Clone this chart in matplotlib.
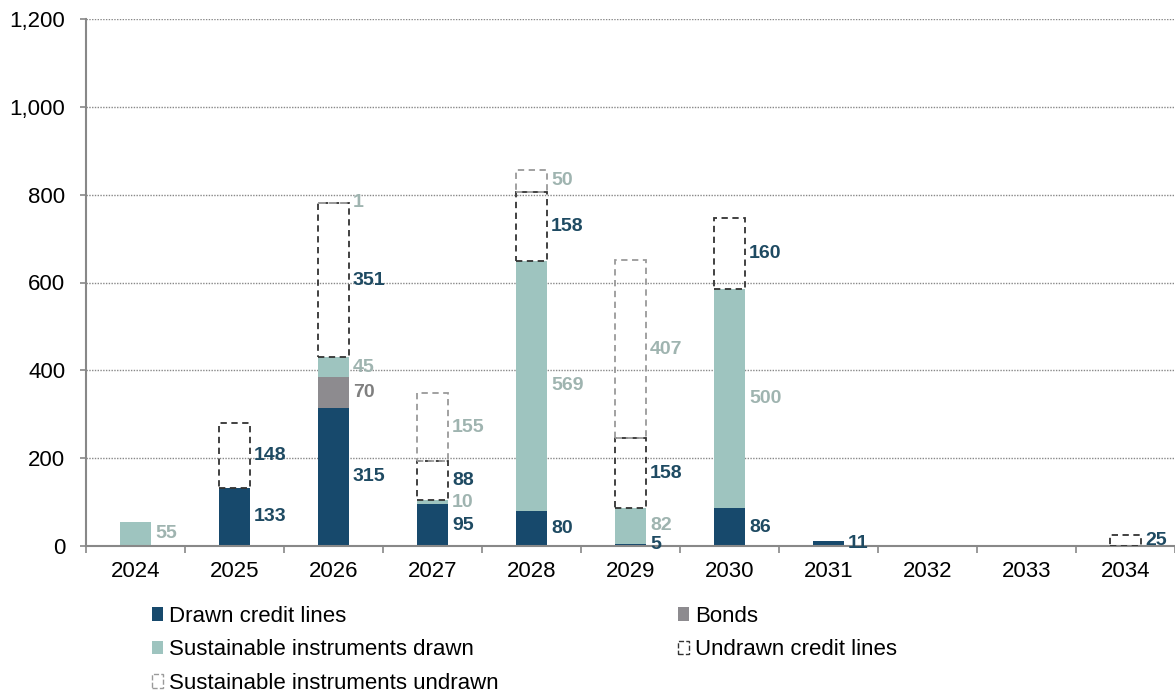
import matplotlib
matplotlib.use("Agg")
import matplotlib.pyplot as plt
from matplotlib.patches import Patch
import numpy as np

plt.rcParams['font.family'] = ['Liberation Sans', 'DejaVu Sans']

years = ['2024', '2025', '2026', '2027', '2028', '2029', '2030', '2031', '2032', '2033', '2034']
drawn_credit = [0, 133, 315, 95, 80, 5, 86, 11, 0, 0, 0]
bonds = [0, 0, 70, 0, 0, 0, 0, 0, 0, 0, 0]
sust_drawn = [55, 0, 45, 10, 569, 82, 500, 0, 0, 0, 0]
undrawn_credit = [0, 148, 351, 88, 158, 158, 160, 0, 0, 0, 25]
sust_undrawn = [0, 0, 1, 155, 50, 407, 0, 0, 0, 0, 0]

series_names = ['Drawn credit lines', 'Bonds', 'Sustainable instruments drawn',
                'Undrawn credit lines', 'Sustainable instruments undrawn']
yticks = [0, 200, 400, 600, 800, 1000, 1200]

DARK = '#17496c'
DARK_LBL = '#1e4a62'
BOND = '#8d8b8f'
SUST = '#9ec4bf'
LIGHT_LBL = '#9fb4b0'
DASH_DARK = '#333333'
DASH_LIGHT = '#9a9a9a'

fig = plt.figure(figsize=(11.75, 6.92), dpi=100)
ax = fig.add_axes([86/1175, 1-546/692, 1-86/1175, (546-19)/692])

x = np.arange(len(years))
w = 0.31

styles = [
    dict(color=DARK, edgecolor='none', lbl=DARK_LBL),
    dict(color=BOND, edgecolor='none', lbl='#7f7f7f'),
    dict(color=SUST, edgecolor='none', lbl=LIGHT_LBL),
    dict(color='none', edgecolor=DASH_DARK, lbl=DARK_LBL, ls='--'),
    dict(color='none', edgecolor=DASH_LIGHT, lbl=LIGHT_LBL, ls='--'),
]
all_series = [drawn_credit, bonds, sust_drawn, undrawn_credit, sust_undrawn]
bottom = np.zeros(len(years))
for vals, st in zip(all_series, styles):
    vals = np.array(vals, dtype=float)
    for i in range(len(years)):
        if vals[i] <= 0:
            continue
        if st.get('ls'):
            ax.bar(x[i], vals[i], w, bottom=bottom[i], facecolor='none',
                   edgecolor=st['edgecolor'], linestyle=(0, (3.5, 2.5)), linewidth=1.3, zorder=3)
        else:
            ax.bar(x[i], vals[i], w, bottom=bottom[i], color=st['color'], zorder=2)
        yc = bottom[i] + vals[i] / 2
        ax.annotate(f'{int(vals[i])}', xy=(x[i] + w / 2, yc), xytext=(3, 0),
                    textcoords='offset points', ha='left', va='center',
                    fontsize=14, fontweight='bold', color=st['lbl'], zorder=5)
    bottom += vals

ax.set_xlim(-0.5, len(years) - 0.5)
ax.set_ylim(0, 1200)
ax.set_yticks(yticks)
ax.set_yticklabels([f'{v:,}' for v in yticks], fontsize=16)
ax.set_xticks(x)
ax.set_xticklabels(years, fontsize=16)
ax.set_xticks(np.arange(-0.5, len(years)), minor=True)
ax.tick_params(axis='x', which='major', length=0, pad=11)
ax.tick_params(axis='x', which='minor', length=5, width=1.2, color='#888888', direction='out')
ax.tick_params(axis='y', length=4.5, width=1.2, color='#888888', pad=10.5)

ax.yaxis.grid(True, linestyle=(0, (1, 1)), color='#888888', linewidth=1.0, zorder=0)
ax.set_axisbelow(True)
for s in ['top', 'right']:
    ax.spines[s].set_visible(False)
for s in ['left', 'bottom']:
    ax.spines[s].set_color('#888888')
    ax.spines[s].set_linewidth(1.5)

h_drawn = Patch(facecolor=DARK, edgecolor='none')
h_bond = Patch(facecolor=BOND, edgecolor='none')
h_sust = Patch(facecolor=SUST, edgecolor='none')
h_und = Patch(facecolor='white', edgecolor=DASH_DARK, linestyle='--', linewidth=1)
h_sund = Patch(facecolor='white', edgecolor=DASH_LIGHT, linestyle='--', linewidth=1)

common = dict(frameon=False, fontsize=16, handlelength=0.5, handleheight=0.55,
              handletextpad=0.25, borderpad=0, borderaxespad=0, labelspacing=0.56,
              loc='upper left')
leg1 = fig.legend([h_drawn, h_sust, h_sund],
                  [series_names[0], series_names[2], series_names[4]],
                  bbox_to_anchor=(152/1175, 1-606/692), **common)
leg2 = fig.legend([h_bond, h_und], [series_names[1], series_names[3]],
                  bbox_to_anchor=(678/1175, 1-606/692), **common)

fig.savefig('out.png', dpi=100)
